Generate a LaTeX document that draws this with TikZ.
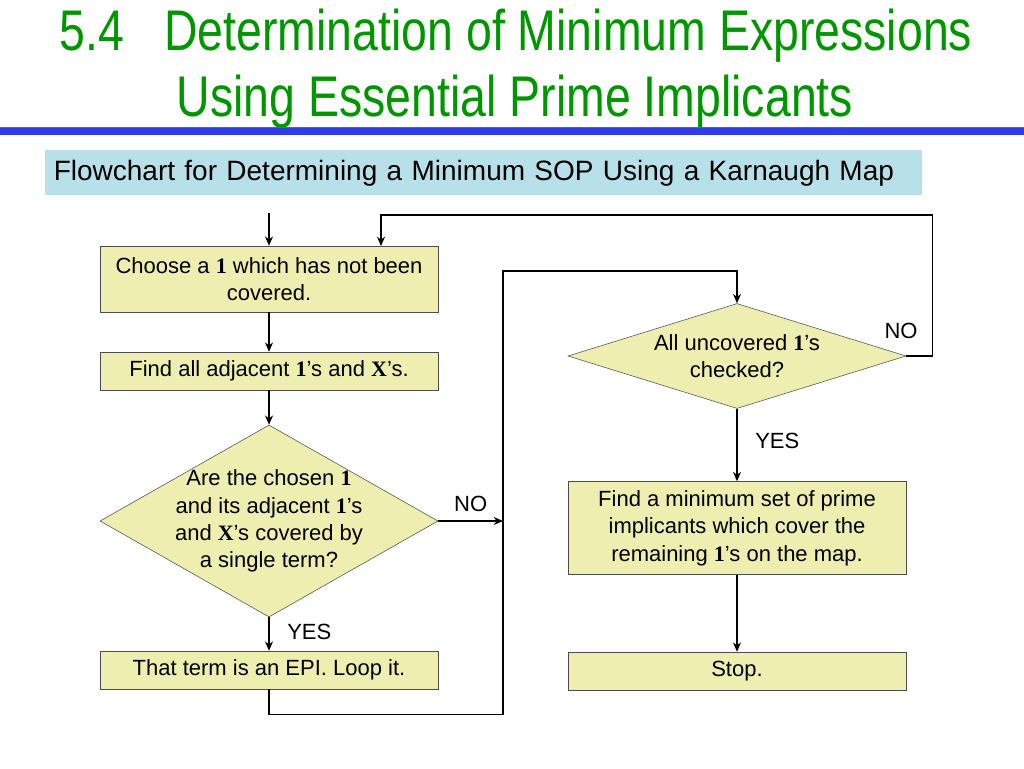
\documentclass[tikz,border=0pt]{standalone}
\usepackage{fontspec}
\setmainfont{Liberation Sans}
\newfontfamily\titlefont[FakeStretch=0.81]{Liberation Sans}
\newfontfamily\serifb{Liberation Serif}
\usetikzlibrary{shapes.geometric}
\usetikzlibrary{positioning}
\usetikzlibrary{arrows.meta}
\definecolor{boxfill}{RGB}{238,238,176}
\definecolor{titlegreen}{RGB}{0,150,0}
\definecolor{barblue}{RGB}{50,60,230}
\definecolor{headfill}{RGB}{184,224,232}
\newcommand{\bo}[1]{{\serifb\bfseries #1}}
\tikzset{
  procbox/.style={draw=black!70, fill=boxfill, minimum width=338*0.75pt, align=center, font=\fontsize{16.5}{20.5}\selectfont, inner sep=2pt},
  decbox/.style={draw=black!70, fill=boxfill, diamond, inner sep=0pt, minimum width=338*0.75pt},
  dectext/.style={align=center, font=\fontsize{16.5}{20.5}\selectfont},
  flow/.style={draw=black, thick, -{Stealth[length=7pt,width=6pt]}},
  lab/.style={font=\fontsize{16.5}{18}\selectfont}
}
\begin{document}
\begin{tikzpicture}[x=0.75pt,y=-0.75pt]
\useasboundingbox (0,0) rectangle (1024,768);
% heading
\node[titlegreen, anchor=west, font=\titlefont\fontsize{43}{50}\selectfont] (t1) at (55,36) {5.4\hspace{0.7em}Determination of Minimum Expressions};
\node[titlegreen, font=\titlefont\fontsize{43}{50}\selectfont] (t2) at (515,102) {Using Essential Prime Implicants};
\fill[barblue] (0,127) rectangle (1024,135);
\draw[black!60] (0,127) -- (1024,127);
\node[fill=headfill, minimum width=877*0.75pt, minimum height=45*0.75pt, anchor=north west, text width=860*0.75pt, font=\fontsize{21}{22}\selectfont] (head) at (45,150) {Flowchart for Determining a Minimum SOP Using a Karnaugh Map};
% left column
\node[procbox, minimum height=66*0.75pt] (choose) at (269,279) {Choose a \bo{1} which has not been\\covered.};
\node[procbox, minimum height=38*0.75pt] (adj) at (269,371) {Find all adjacent \bo{1}'s and \bo{X}'s.};
\node[decbox, aspect=1.76, minimum height=192*0.75pt] (single) at (269,521) {};
\node[dectext] (singletxt) at (single.center) {Are the chosen \bo{1}\\and its adjacent \bo{1}'s\\and \bo{X}'s covered by\\a single term?};
\node[procbox, minimum height=38*0.75pt] (epi) at (269,670) {That term is an EPI. Loop it.};
% right column
\node[decbox, aspect=3.22, minimum height=105*0.75pt] (check) at (737,356) {};
\node[dectext] (checktxt) at (check.center) {All uncovered \bo{1}'s\\checked?};
\node[procbox, minimum height=93*0.75pt] (minset) at (737,528) {Find a minimum set of prime\\implicants which cover the\\remaining \bo{1}'s on the map.};
\node[procbox, minimum height=38*0.75pt] (stop) at (737,671) {Stop.};
% connectors
\coordinate (start) at (269,213);
\coordinate (nj) at (503,521);
\draw[flow] (start) -- (choose);
\draw[flow] (choose) -- (adj);
\draw[flow] (adj) -- (single);
\draw[flow] (single) -- (epi) node[lab, pos=0.45, right=10pt] {YES};
\draw[flow] (single.east) -- (nj) node[lab, midway, above=3pt] {NO};
\draw[flow] (epi.south) -- ++(0,25) -| (503,271) -| (check.north);
\draw[flow] (check.east) -- ++(26,0) |- (381,215) -- (381,246);
\node[lab] (nolab) at (901,331) {NO};
\draw[flow] (check) -- (minset) node[lab, pos=0.45, right=10pt] {YES};
\draw[flow] (minset) -- (stop);
\end{tikzpicture}
\end{document}
